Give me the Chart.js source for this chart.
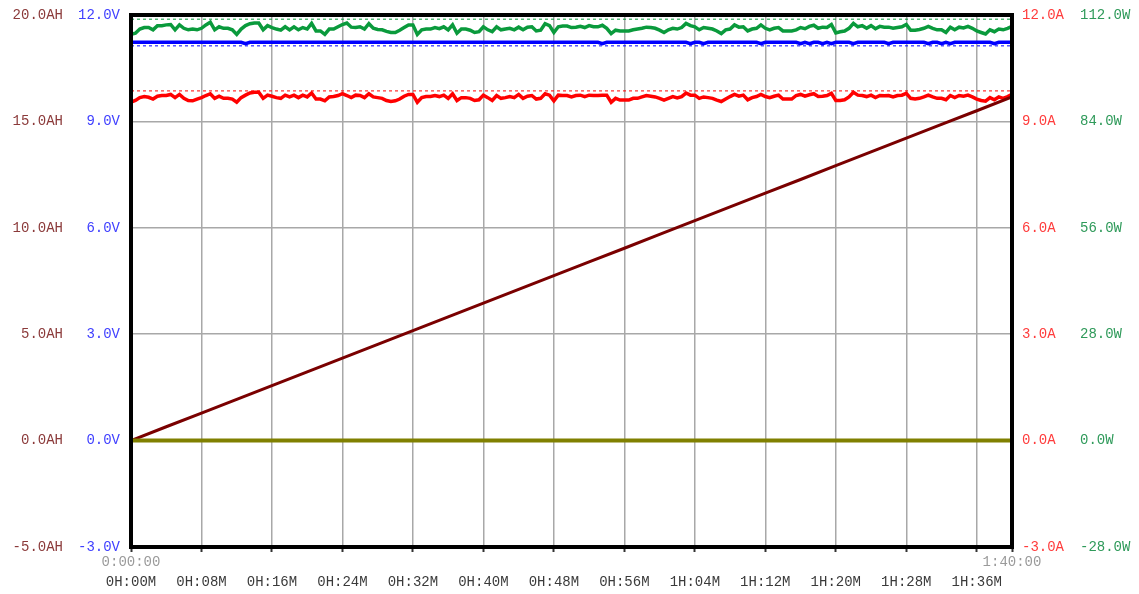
<!DOCTYPE html>
<html>
<head>
<meta charset="utf-8">
<title>Discharge log</title>
<script src="https://cdn.jsdelivr.net/npm/chart.js@4.4.1/dist/chart.umd.min.js"></script>
<style>
  html, body { margin: 0; padding: 0; background: #fff; }
  #wrap { width: 1139px; height: 594px; position: relative; }
</style>
</head>
<body>
<div id="wrap"><canvas id="logChart"></canvas></div>
<script>
// one reading every 30 s, 0:00:00 .. 1:40:00
const SAMPLE_MIN = 0.5;
const AH_STEP_MIN = 4;

// current in A
const current = [
  9.54, 9.59, 9.67, 9.70, 9.68, 9.63, 9.71, 9.73, 9.73, 9.76,
  9.67, 9.76, 9.65, 9.59, 9.58, 9.63, 9.67, 9.73, 9.78, 9.65,
  9.71, 9.65, 9.65, 9.63, 9.54, 9.67, 9.74, 9.80, 9.82, 9.82,
  9.65, 9.74, 9.71, 9.67, 9.65, 9.74, 9.69, 9.74, 9.67, 9.74,
  9.69, 9.80, 9.63, 9.63, 9.58, 9.69, 9.70, 9.73, 9.78, 9.73,
  9.67, 9.74, 9.73, 9.67, 9.78, 9.69, 9.67, 9.65, 9.59, 9.56,
  9.58, 9.63, 9.71, 9.76, 9.76, 9.54, 9.67, 9.70, 9.70, 9.73,
  9.70, 9.74, 9.65, 9.78, 9.59, 9.67, 9.67, 9.65, 9.59, 9.61,
  9.74, 9.67, 9.59, 9.73, 9.65, 9.67, 9.70, 9.67, 9.76, 9.65,
  9.71, 9.73, 9.63, 9.65, 9.78, 9.74, 9.58, 9.74, 9.73, 9.73,
  9.69, 9.73, 9.74, 9.70, 9.74, 9.73, 9.73, 9.74, 9.74, 9.54,
  9.65, 9.60, 9.60, 9.60, 9.65, 9.65, 9.69, 9.73, 9.71, 9.69,
  9.65, 9.60, 9.65, 9.70, 9.66, 9.70, 9.80, 9.74, 9.74, 9.65,
  9.69, 9.67, 9.65, 9.60, 9.56, 9.63, 9.70, 9.76, 9.71, 9.74,
  9.61, 9.67, 9.70, 9.76, 9.70, 9.67, 9.71, 9.74, 9.63, 9.63,
  9.63, 9.73, 9.76, 9.71, 9.75, 9.78, 9.70, 9.71, 9.73, 9.79,
  9.59, 9.59, 9.61, 9.69, 9.82, 9.74, 9.73, 9.70, 9.74, 9.67,
  9.73, 9.72, 9.73, 9.69, 9.73, 9.74, 9.79, 9.65, 9.63, 9.65,
  9.69, 9.74, 9.69, 9.65, 9.65, 9.61, 9.73, 9.67, 9.73, 9.71,
  9.74, 9.69, 9.63, 9.59, 9.57, 9.67, 9.61, 9.69, 9.65, 9.70,
  9.76
];

// power in W
const power = [
  106.9, 107.2, 108.3, 108.7, 108.7, 108.1, 109.2, 109.2, 109.4, 109.5,
  108.1, 109.4, 108.5, 108.1, 108.3, 108.1, 108.5, 109.4, 110.1, 108.1,
  108.9, 108.5, 108.5, 108.1, 106.9, 108.3, 109.2, 109.7, 109.9, 109.9,
  108.1, 109.2, 108.7, 108.3, 108.0, 108.9, 108.1, 108.9, 108.1, 108.7,
  108.3, 109.8, 107.8, 107.8, 106.9, 108.3, 108.3, 108.9, 109.5, 109.9,
  108.8, 108.7, 108.9, 108.3, 109.7, 108.5, 108.2, 108.1, 107.7, 107.4,
  107.4, 108.0, 108.7, 109.4, 109.4, 106.9, 108.1, 108.3, 108.3, 108.7,
  108.4, 108.9, 108.1, 109.4, 107.2, 108.3, 108.3, 108.0, 107.4, 107.6,
  108.9, 108.1, 107.6, 108.9, 108.1, 108.3, 108.5, 108.1, 108.8, 108.1,
  108.8, 108.9, 107.8, 108.0, 109.7, 109.2, 107.4, 108.9, 109.1, 109.1,
  108.7, 108.8, 109.0, 108.7, 109.2, 108.9, 108.9, 109.3, 108.5, 107.1,
  108.0, 107.8, 107.8, 107.8, 108.1, 108.3, 108.5, 108.8, 108.7, 108.5,
  108.0, 107.4, 108.1, 108.5, 108.3, 108.7, 109.8, 109.2, 108.9, 108.1,
  108.7, 108.5, 108.3, 107.8, 107.1, 108.1, 108.3, 109.4, 108.8, 108.9,
  107.8, 108.3, 108.5, 109.4, 108.5, 108.1, 108.5, 108.7, 107.8, 107.8,
  107.8, 108.1, 108.7, 108.4, 109.0, 109.3, 108.5, 108.8, 108.7, 109.5,
  107.3, 107.6, 107.8, 108.5, 109.8, 108.9, 109.2, 108.5, 109.2, 108.4,
  109.0, 108.8, 108.8, 108.5, 108.7, 108.9, 109.5, 108.0, 108.0, 108.2,
  108.5, 109.0, 108.5, 108.1, 108.1, 107.4, 108.8, 108.1, 108.8, 108.6,
  109.0, 108.5, 107.8, 107.4, 107.0, 108.1, 107.6, 108.3, 108.1, 108.5,
  109.0
];

// voltage in V
const voltage = [
  11.23, 11.23, 11.23, 11.23, 11.23, 11.23, 11.23, 11.23, 11.23, 11.23, 11.23, 11.23, 11.23, 11.23, 11.23, 11.23, 11.23, 11.23, 11.23, 11.23,
  11.23, 11.23, 11.23, 11.23, 11.23, 11.23, 11.19, 11.23, 11.23, 11.23, 11.23, 11.23, 11.23, 11.23, 11.23, 11.23, 11.23, 11.23, 11.23, 11.23,
  11.23, 11.23, 11.23, 11.23, 11.23, 11.23, 11.23, 11.23, 11.23, 11.23, 11.23, 11.23, 11.23, 11.23, 11.23, 11.23, 11.23, 11.23, 11.23, 11.23,
  11.23, 11.23, 11.23, 11.23, 11.23, 11.23, 11.23, 11.23, 11.23, 11.23, 11.23, 11.23, 11.23, 11.23, 11.23, 11.23, 11.23, 11.23, 11.23, 11.23,
  11.23, 11.23, 11.23, 11.23, 11.23, 11.23, 11.23, 11.23, 11.23, 11.23, 11.23, 11.23, 11.23, 11.23, 11.23, 11.23, 11.23, 11.23, 11.23, 11.23,
  11.23, 11.23, 11.23, 11.23, 11.23, 11.23, 11.23, 11.19, 11.23, 11.23, 11.23, 11.23, 11.23, 11.23, 11.23, 11.23, 11.23, 11.23, 11.23, 11.23,
  11.23, 11.23, 11.23, 11.23, 11.23, 11.23, 11.23, 11.19, 11.23, 11.23, 11.19, 11.23, 11.23, 11.23, 11.23, 11.23, 11.23, 11.23, 11.23, 11.23,
  11.23, 11.23, 11.23, 11.19, 11.23, 11.23, 11.23, 11.23, 11.23, 11.23, 11.23, 11.23, 11.19, 11.23, 11.19, 11.23, 11.23, 11.19, 11.23, 11.19,
  11.23, 11.23, 11.23, 11.23, 11.19, 11.23, 11.23, 11.23, 11.23, 11.23, 11.23, 11.23, 11.19, 11.23, 11.23, 11.23, 11.23, 11.23, 11.23, 11.23,
  11.23, 11.19, 11.23, 11.23, 11.19, 11.23, 11.19, 11.23, 11.23, 11.23, 11.23, 11.23, 11.23, 11.23, 11.23, 11.23, 11.19, 11.23, 11.23, 11.23,
  11.23
];

// capacity in AH, every 4 minutes
const capacity = [
  0.00, 0.65, 1.29, 1.94, 2.58, 3.23, 3.88, 4.52, 5.17, 5.81,
  6.46, 7.11, 7.75, 8.40, 9.04, 9.69, 10.34, 10.98, 11.63, 12.27,
  12.92, 13.57, 14.21, 14.86, 15.50, 16.15
];

// flat olive trace (stays at zero the whole run)
const zeroTrace = [0, 0];
const zeroTimes = [0, 100];

// set limits (dotted lines)
const vLimit = 11.13;
const aLimit = 9.86;
const wLimit = 110.9;

const ahTicks = [-5, 0, 5, 10, 15, 20];
const vTicks = [-3, 0, 3, 6, 9, 12];
const aTicks = [-3, 0, 3, 6, 9, 12];
const wTicks = [-28, 0, 28, 56, 84, 112];
const xTickMinutes = [0, 8, 16, 24, 32, 40, 48, 56, 64, 72, 80, 88, 96];
const xTickLabels = ['0H:00M', '0H:08M', '0H:16M', '0H:24M', '0H:32M', '0H:40M', '0H:48M',
                     '0H:56M', '1H:04M', '1H:12M', '1H:20M', '1H:28M', '1H:36M'];
const clockTickMinutes = [0, 8, 16, 24, 32, 40, 48, 56, 64, 72, 80, 88, 96, 100];
const startLabel = '0:00:00';
const endLabel = '1:40:00';

const FONT = { family: '"Liberation Mono", "DejaVu Sans Mono", monospace', size: 14 };
const GRID = '#a8a8a8';

function toPoints(vals, step) {
    return vals.map((v, i) => ({ x: i * step, y: v }));
}
function pairPoints(xs, ys) {
    return xs.map((x, i) => ({ x: x, y: ys[i] }));
}
function fixedTicks(values) {
    return function (scale) { scale.ticks = values.map(v => ({ value: v })); };
}
// fixed axis width; top/bottom label overhang must not push the plot area
function fixedWidth(w) {
    return function (scale) {
        scale.width = w;
        scale.paddingTop = 0;
        scale.paddingBottom = 0;
    };
}
function fixedHeight(h) {
    return function (scale) { scale.height = h; };
}
function limitLine(value, axis, color) {
    return {
        data: [{ x: 0, y: value }, { x: 100, y: value }],
        yAxisID: axis,
        borderColor: color,
        borderWidth: 1,
        borderDash: [3, 3],
        pointRadius: 0,
        order: 9
    };
}

// thick black frame round the plot area
const framePlugin = {
    id: 'frame',
    afterDatasetsDraw(chart) {
        const { ctx, chartArea } = chart;
        ctx.save();
        ctx.strokeStyle = '#000';
        ctx.lineWidth = 4;
        ctx.strokeRect(chartArea.left, chartArea.top,
                       chartArea.right - chartArea.left, chartArea.bottom - chartArea.top);
        ctx.restore();
    }
};

const ctx = document.getElementById('logChart').getContext('2d');
const logChart = new Chart(ctx, {
    type: 'line',
    data: {
        datasets: [
            {
                label: 'Zero',
                data: pairPoints(zeroTimes, zeroTrace),
                yAxisID: 'ah',
                borderColor: '#808000',
                borderWidth: 4,
                pointRadius: 0,
                order: 0
            },
            {
                label: 'Capacity',
                data: toPoints(capacity, AH_STEP_MIN),
                yAxisID: 'ah',
                borderColor: '#7a0000',
                borderWidth: 3,
                pointRadius: 0,
                order: 1
            },
            {
                label: 'Current',
                data: toPoints(current, SAMPLE_MIN),
                yAxisID: 'a',
                borderColor: '#ff0000',
                borderWidth: 3.5,
                pointRadius: 0,
                order: 2
            },
            {
                label: 'Voltage',
                data: toPoints(voltage, SAMPLE_MIN),
                yAxisID: 'v',
                borderColor: '#0000ff',
                borderWidth: 3.5,
                pointRadius: 0,
                order: 2
            },
            {
                label: 'Power',
                data: toPoints(power, SAMPLE_MIN),
                yAxisID: 'w',
                borderColor: '#0a9a3c',
                borderWidth: 3.5,
                pointRadius: 0,
                order: 2
            },
            limitLine(vLimit, 'v', '#0000ff'),
            limitLine(aLimit, 'a', '#ff0000'),
            limitLine(wLimit, 'w', '#0a9a3c')
        ]
    },
    options: {
        responsive: true,
        maintainAspectRatio: false,
        animation: false,
        devicePixelRatio: 1,
        layout: { padding: { top: 15, left: 0, right: 0, bottom: 0 } },
        elements: { line: { tension: 0, borderJoinStyle: 'miter' } },
        plugins: {
            legend: { display: false },
            tooltip: { enabled: false }
        },
        scales: {
            x: {
                type: 'linear',
                position: 'bottom',
                weight: 1,
                min: 0,
                max: 100,
                afterBuildTicks: fixedTicks(xTickMinutes),
                afterFit: fixedHeight(23),
                grid: { color: GRID, lineWidth: 1.5, drawTicks: false },
                border: { display: false },
                ticks: {
                    color: '#3a3a3a',
                    font: FONT,
                    padding: 3,
                    autoSkip: false,
                    maxRotation: 0,
                    minRotation: 0,
                    callback: (v, i) => xTickLabels[i]
                }
            },
            clock: {
                type: 'linear',
                position: 'bottom',
                weight: 0,
                min: 0,
                max: 100,
                afterBuildTicks: fixedTicks(clockTickMinutes),
                afterFit: fixedHeight(24),
                grid: { drawOnChartArea: false, drawTicks: true, tickLength: 5, tickColor: '#333', tickWidth: 2 },
                border: { display: false },
                ticks: {
                    color: '#9a9a9a',
                    font: FONT,
                    padding: 2,
                    autoSkip: false,
                    maxRotation: 0,
                    minRotation: 0,
                    callback: v => (v === 0 ? startLabel : (v === 100 ? endLabel : ''))
                }
            },
            ah: {
                type: 'linear',
                position: 'left',
                weight: 1,
                min: -5,
                max: 20,
                afterBuildTicks: fixedTicks(ahTicks),
                afterFit: fixedWidth(71),
                grid: { color: GRID, lineWidth: 1.5, drawTicks: false },
                border: { display: false },
                ticks: { color: '#8b3a3a', font: FONT, padding: 8, callback: v => v.toFixed(1) + 'AH' }
            },
            v: {
                type: 'linear',
                position: 'left',
                weight: 0,
                min: -3,
                max: 12,
                afterBuildTicks: fixedTicks(vTicks),
                afterFit: fixedWidth(60),
                grid: { drawOnChartArea: false, drawTicks: false },
                border: { display: false },
                ticks: { color: '#4040ff', font: FONT, padding: 11, callback: v => v.toFixed(1) + 'V' }
            },
            a: {
                type: 'linear',
                position: 'right',
                weight: 0,
                min: -3,
                max: 12,
                afterBuildTicks: fixedTicks(aTicks),
                afterFit: fixedWidth(58),
                grid: { drawOnChartArea: false, drawTicks: false },
                border: { display: false },
                ticks: { color: '#ff3c3c', font: FONT, padding: 10, callback: v => v.toFixed(1) + 'A' }
            },
            w: {
                type: 'linear',
                position: 'right',
                weight: 1,
                min: -28,
                max: 112,
                afterBuildTicks: fixedTicks(wTicks),
                afterFit: fixedWidth(69),
                grid: { drawOnChartArea: false, drawTicks: false },
                border: { display: false },
                ticks: { color: '#2f9a5a', font: FONT, padding: 10, callback: v => v.toFixed(1) + 'W' }
            }
        }
    },
    plugins: [framePlugin]
});
</script>
</body>
</html>
